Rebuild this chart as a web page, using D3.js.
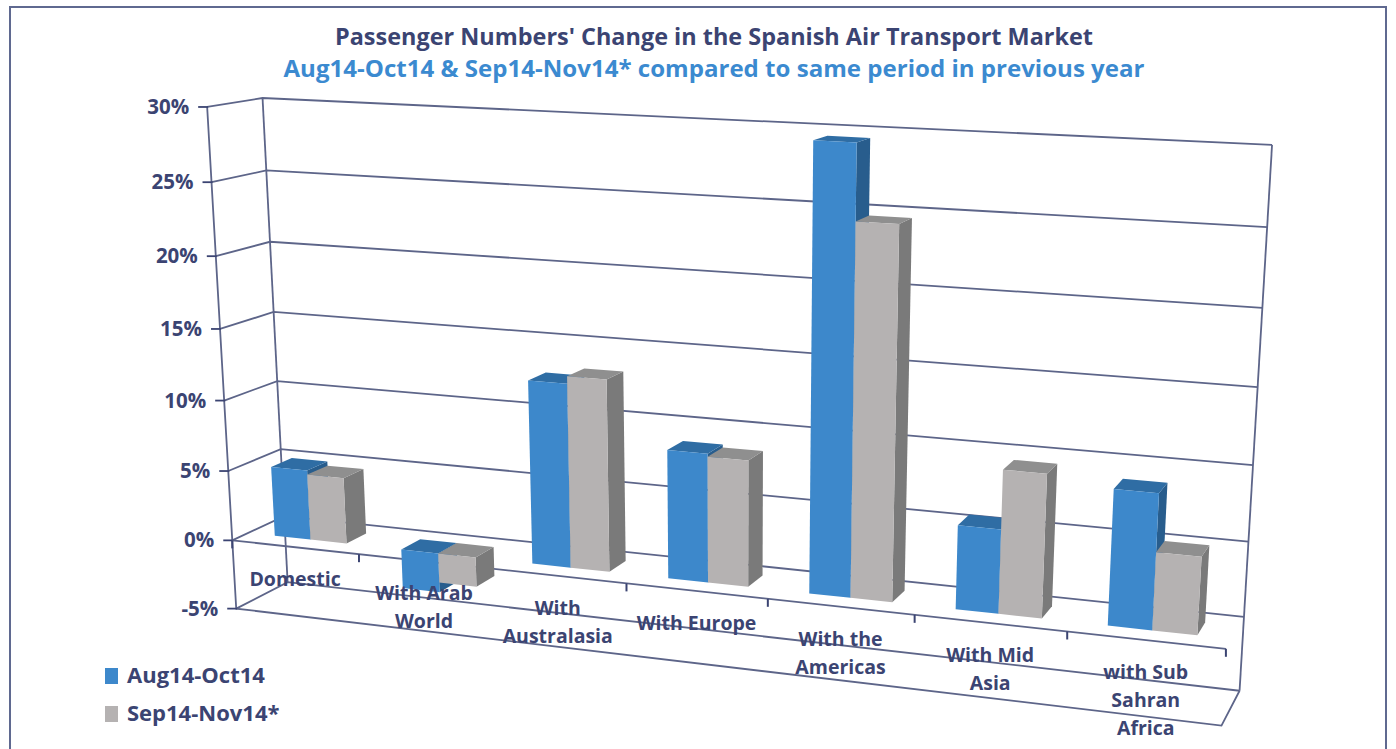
<!DOCTYPE html>
<html><head><meta charset="utf-8">
<script src="https://cdn.jsdelivr.net/npm/d3@7"></script>
<style>
html,body{margin:0;padding:0;background:#fff;}
svg{display:block;font-family:'Open Sans',Lato,sans-serif;}
</style>
</head><body>
<svg id="chart" width="1396" height="749"></svg>
<script>
// ---------------- DATA ----------------
const categories = ["Domestic", "With Arab World", "With Australasia", "With Europe", "With the Americas", "With Mid Asia", "with Sub Sahran Africa"];
const categoryLabelLines = [["Domestic"], ["With Arab", "World"], ["With", "Australasia"], ["With Europe"], ["With the", "Americas"], ["With Mid", "Asia"], ["with Sub", "Sahran", "Africa"]];
const seriesNames = ["Aug14-Oct14", "Sep14-Nov14*"];
const aug14Oct14 = [5.0, -2.8, 12.7, 8.8, 29.5, 5.6, 8.9];
const sep14Nov14 = [4.7, -2.1, 13.2, 8.6, 24.6, 9.5, 5.1];
const yTickValues = [-5, 0, 5, 10, 15, 20, 25, 30];
const titleText = "Passenger Numbers' Change in the Spanish Air Transport Market";
const subtitleText = "Aug14-Oct14 & Sep14-Nov14* compared to same period in previous year";

// ---------------- STYLE ----------------
const navy = "#3b4472";
const gridColor = "#5d6589";
const faceColors = {
  "Aug14-Oct14": {front: "#3d88cb", side: "#285d8d", top: "#2f6da4"},
  "Sep14-Nov14*": {front: "#b5b2b2", side: "#7a7a7a", top: "#8f8f8f"}
};

// ---------------- 3D SCALES ----------------
const yDomain = d3.extent(yTickValues);
const yScale = d3.scaleLinear().domain(yDomain).range([0, 1]);          // world height
const xScale = d3.scaleBand().domain(categories).range([0, 1]);          // world width
const sScale = d3.scaleBand().domain(seriesNames).range([0, xScale.bandwidth()]).paddingInner(0).paddingOuter(0.75); // gap width 150%
const zScale = d3.scaleBand().domain(["bars"]).range([0, 1]).paddingOuter(0.75); // gap depth 150%

// camera calibration: frame corners (world X, value, world Z) -> picture
const cameraAnchors = [
  {w: [0, 30, 0], p: [205, 109]}, {w: [0, 0, 0], p: [233, 538]}, {w: [0, -5, 0], p: [237, 605]},
  {w: [0, 30, 1], p: [265, 96]},  {w: [0, 0, 1], p: [282, 517]}, {w: [0, -5, 1], p: [288, 587]},
  {w: [1, 30, 1], p: [1272, 145]}, {w: [1, 0, 1], p: [1243, 615]}, {w: [1, -5, 1], p: [1240, 688]},
  {w: [1, -5, 0], p: [1222, 727]}, {w: [1, 0, 0], p: [1226, 652]}
];

function fitCamera(anchors) {
  const rows = [], rhs = [];
  anchors.forEach(a => {
    const X = a.w[0], Y = yScale(a.w[1]), Z = a.w[2];
    const u = (a.p[0] - 700) / 500, v = (a.p[1] - 400) / 500;
    rows.push([X, Y, Z, 1, 0, 0, 0, 0, -u * X, -u * Y, -u * Z]); rhs.push(u);
    rows.push([0, 0, 0, 0, X, Y, Z, 1, -v * X, -v * Y, -v * Z]); rhs.push(v);
  });
  const n = 11;
  const A = Array.from({length: n}, () => new Array(n + 1).fill(0));
  rows.forEach((r, k) => {
    for (let i = 0; i < n; i++) {
      A[i][n] += r[i] * rhs[k];
      for (let j = 0; j < n; j++) A[i][j] += r[i] * r[j];
    }
  });
  for (let c = 0; c < n; c++) {
    let piv = c;
    for (let r = c + 1; r < n; r++) if (Math.abs(A[r][c]) > Math.abs(A[piv][c])) piv = r;
    [A[c], A[piv]] = [A[piv], A[c]];
    for (let r = 0; r < n; r++) {
      if (r === c) continue;
      const f = A[r][c] / A[c][c];
      for (let k = c; k <= n; k++) A[r][k] -= f * A[c][k];
    }
  }
  return A.map((row, i) => row[n] / row[i]);
}
const M = fitCamera(cameraAnchors);
function project(X, value, Z) {
  const Y = yScale(value);
  const w = M[8] * X + M[9] * Y + M[10] * Z + 1;
  const u = (M[0] * X + M[1] * Y + M[2] * Z + M[3]) / w;
  const v = (M[4] * X + M[5] * Y + M[6] * Z + M[7]) / w;
  return [u * 500 + 700, v * 500 + 400];
}

const svg = d3.select("#chart");
const line = d3.line();

// frame
svg.append("rect").attr("x", 10).attr("y", 7).attr("width", 1376).attr("height", 780)
  .attr("fill", "#fff").attr("stroke", "#5f6990").attr("stroke-width", 2);

// titles
svg.append("text").attr("x", 714).attr("y", 45).attr("text-anchor", "middle")
  .attr("font-size", 23).attr("font-weight", 700).attr("fill", navy)
  .attr("textLength", 758).attr("lengthAdjust", "spacingAndGlyphs").text(titleText);
svg.append("text").attr("x", 714).attr("y", 77).attr("text-anchor", "middle")
  .attr("font-size", 23).attr("font-weight", 700).attr("fill", "#3b8ad0")
  .attr("textLength", 861).attr("lengthAdjust", "spacingAndGlyphs").text(subtitleText);

// walls / grid
const grid = svg.append("g").attr("fill", "none").attr("stroke", gridColor).attr("stroke-width", 1.8);
yTickValues.forEach(v => {
  grid.append("path").attr("d", line([project(0, v, 0), project(0, v, 1), project(1, v, 1)]));
});
grid.append("path").attr("d", line([project(0, yDomain[0], 1), project(0, yDomain[1], 1)]));
grid.append("path").attr("d", line([project(1, yDomain[0], 1), project(1, yDomain[1], 1)]));
grid.append("path").attr("d", line([project(0, yDomain[1], 0), project(0, yDomain[0], 0), project(1, yDomain[0], 0), project(1, yDomain[0], 1)]));

// value axis ticks + labels
yTickValues.forEach(v => {
  const [px, py] = project(0, v, 0);
  svg.append("path").attr("d", line([[px - 9, py], [px + 1, py]])).attr("stroke", navy).attr("stroke-width", 1.8);
  svg.append("text").attr("x", px - 18).attr("y", py + 7).attr("text-anchor", "end")
    .attr("font-size", 20.5).attr("font-weight", 700).attr("fill", navy).text(v + "%");
});

// category axis line + ticks
svg.append("path").attr("d", line([project(0, 0, 0), project(1, 0, 0)]))
  .attr("stroke", gridColor).attr("stroke-width", 1.8).attr("fill", "none");
d3.range(categories.length + 1).forEach(k => {
  const [px, py] = project(k / categories.length, 0, 0);
  svg.append("path").attr("d", line([[px, py], [px, py + 8]])).attr("stroke", navy).attr("stroke-width", 2);
});

// bars
const seriesValues = {"Aug14-Oct14": aug14Oct14, "Sep14-Nov14*": sep14Nov14};
const z0 = zScale("bars"), z1 = z0 + zScale.bandwidth();
const barsG = svg.append("g");
categories.forEach((cat, ci) => {
  seriesNames.forEach(s => {
    const val = seriesValues[s][ci];
    const x0 = xScale(cat) + sScale(s), x1 = x0 + sScale.bandwidth();
    const vt = Math.max(0, val), vb = Math.min(0, val);
    const c = faceColors[s];
    const g = barsG.append("g");
    g.append("path").attr("fill", c.side).attr("d", line([project(x1, vb, z0), project(x1, vb, z1), project(x1, vt, z1), project(x1, vt, z0)]) + "Z");
    g.append("path").attr("fill", c.top).attr("d", line([project(x0, vt, z0), project(x1, vt, z0), project(x1, vt, z1), project(x0, vt, z1)]) + "Z");
    g.append("path").attr("fill", c.front).attr("d", line([project(x0, vb, z0), project(x1, vb, z0), project(x1, vt, z0), project(x0, vt, z0)]) + "Z");
  });
});

// category labels
categories.forEach((cat, ci) => {
  const [px, py] = project(xScale(cat) + xScale.bandwidth() / 2, 0, 0);
  const t = svg.append("text").attr("text-anchor", "middle").attr("font-size", 19.5).attr("font-weight", 700).attr("fill", navy);
  categoryLabelLines[ci].forEach((ln, li) => {
    t.append("tspan").attr("x", px).attr("y", py + 39 + li * 28).text(ln);
  });
});

// legend
seriesNames.forEach((s, i) => {
  const y = 668 + i * 38;
  svg.append("rect").attr("x", 105).attr("y", y).attr("width", 13).attr("height", 16).attr("fill", faceColors[s].front);
  svg.append("text").attr("x", 127).attr("y", y + 15).attr("font-size", 22).attr("font-weight", 700).attr("fill", navy).text(s);
});
</script>
</body></html>
